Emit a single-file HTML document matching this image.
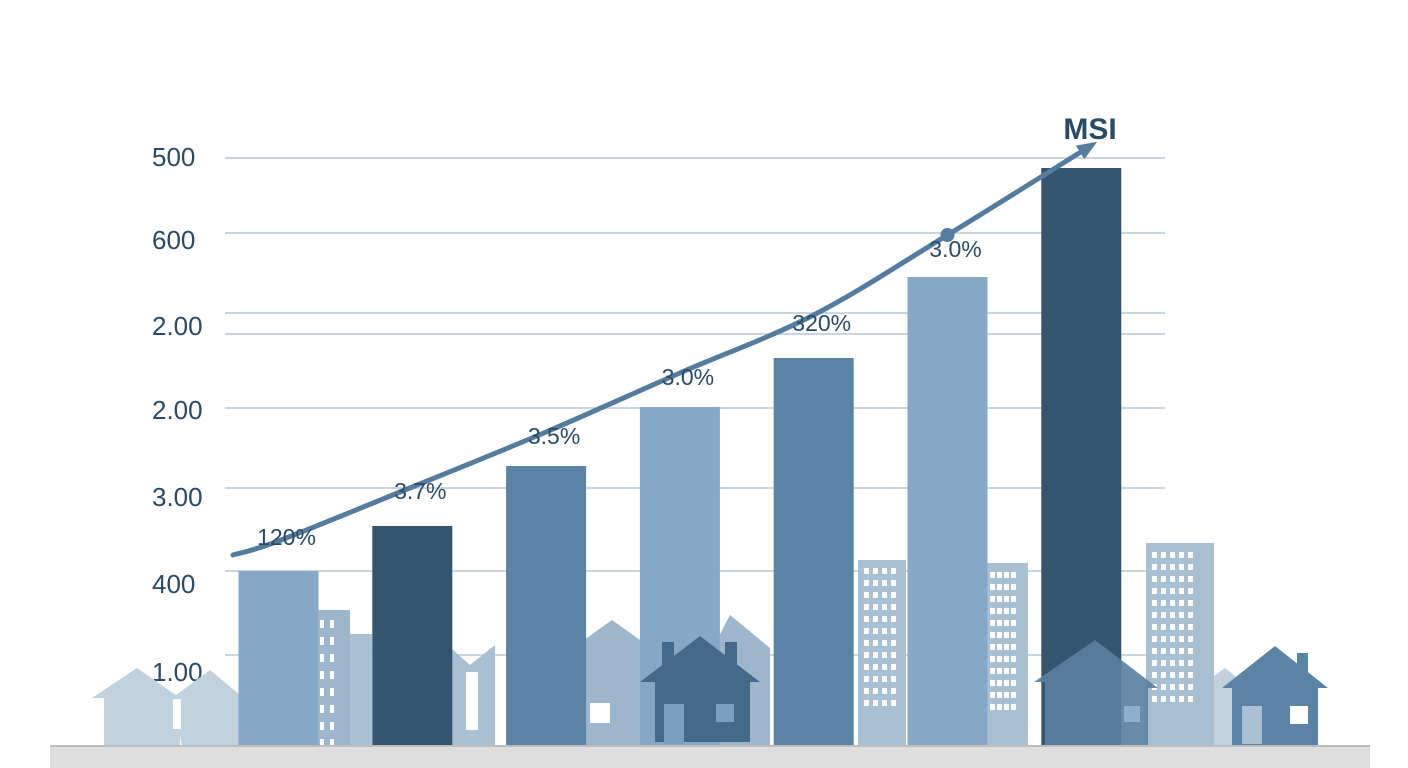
<!DOCTYPE html>
<html><head><meta charset="utf-8"><style>
html,body{margin:0;padding:0;background:#fff;width:1408px;height:768px;overflow:hidden}
svg{display:block;font-family:"Liberation Sans",sans-serif}
</style></head><body>
<svg id="c" width="1408" height="768" viewBox="0 0 1408 768">
<g id="grid"></g>
<g id="bg">
  <polygon points="92,698 137,668 180,698 180,746 104,746 104,698" fill="#c2d1de"/>
  <polygon points="172,698 210,670 240,695 240,746 182,746" fill="#c2d1de"/>
  <rect x="173" y="699" width="8" height="30" fill="#fff"/>
  <rect x="318" y="610" width="32" height="136" fill="#9db6cc"/>
  <rect x="350" y="634" width="22" height="112" fill="#a9bfd2"/>
  <polygon points="451,648 470,665 495,645 495,746 451,746" fill="#a9bfd2"/>
  <rect x="466" y="672" width="12" height="58" fill="#fff"/>
  <polygon points="584,640 612,620 640,640 640,746 584,746" fill="#9db6cc"/>
  <rect x="590" y="703" width="20" height="20" fill="#fff"/>
  <polygon points="717,640 730,615 770,648 770,746 717,746" fill="#9db6cc"/>
  <rect x="858" y="560" width="48" height="186" fill="#a9bfd2"/>
  <rect x="986" y="563" width="42" height="183" fill="#a9bfd2"/>
  <rect x="1146" y="543" width="68" height="203" fill="#a9bfd2"/>
  <polygon points="1214,676 1225,668 1240,680 1240,746 1214,746" fill="#c2d1de"/>
  <g id="win" fill="#fff"></g>
</g>
<g id="bars"></g>
<g id="fg">
  <polygon points="640,682 700,636 760,682 750,682 750,742 655,742 655,682" fill="#46698a"/>
  <rect x="662" y="642" width="12" height="25" fill="#46698a"/><rect x="725" y="642" width="12" height="25" fill="#46698a"/>
  <rect x="664" y="704" width="20" height="40" fill="#7aa0c0"/>
  <rect x="716" y="704" width="18" height="18" fill="#7aa0c0"/>
  <polygon points="1034,682 1095,640 1158,688 1148,688 1148,746 1045,746 1045,682" fill="#5a7fa0" opacity="0.9"/>
  <rect x="1124" y="706" width="16" height="16" fill="#8fb0cc"/>
  <polygon points="1222,688 1275,646 1328,688 1318,688 1318,745 1232,745 1232,688" fill="#5a83a6"/>
  <rect x="1297" y="653" width="11" height="22" fill="#5a83a6"/>
  <rect x="1242" y="706" width="20" height="38" fill="#aac0d4"/>
  <rect x="1290" y="706" width="18" height="18" fill="#fff"/>
</g>
<g id="line"></g>
<rect x="50" y="746" width="1320" height="22" fill="#dedede"/>
<rect x="50" y="745" width="1320" height="2" fill="#bdbdbd"/>
<g id="labels"></g>
</svg>
<script>
const categories = ["B1","B2","B3","B4","B5","B6","B7"];
const barValues = [174, 219, 279, 338, 387, 468, 577];
const barColors = ["#86a8c6","#34546f","#5a83a6","#86a8c6","#5a83a6","#86a8c6","#34546f"];
const barLabels = ["120%","3.7%","3.5%","3.0%","320%","3.0%"];
const labelValues = [208, 254, 309, 368, 422, 496];
const lineValues = [190, 204, 258, 313, 372, 430, 510, 600];
const lineIndex = [-0.34, 0, 1, 2, 3, 4, 5, 6.08];
const tickLabels = ["500","600","2.00","2.00","3.00","400","1.00"];
const tickValues = [588, 505, 419, 335, 248, 161, 73];
const gridValues = [587, 512, 432, 411, 337, 257, 174, 90];

const NS="http://www.w3.org/2000/svg";
const baseY=745, x0=278.5, step=133.8;
function y(v){return baseY - v;}
function xc(i){return x0 + i*step;}
function mk(t,a,p){const e=document.createElementNS(NS,t);for(const k in a)e.setAttribute(k,a[k]);p.appendChild(e);return e;}

const grid=document.getElementById('grid');
gridValues.forEach(v=>{
  const l=mk('line',{x1:225,x2:1165,y1:y(v),y2:y(v),stroke:'#c9d6e2','stroke-width':2},grid);
  
  
});
tickLabels.forEach((t,i)=>{
  const e=mk('text',{x:152,y:y(tickValues[i])+9,'font-size':26,fill:'#2b4a66'},grid);
  e.textContent=t;
  
  
});

const win=document.getElementById('win');
[[864,568,6,4,12],[990,572,4,4,12],[1152,552,6,5,13],[320,620,2,6,22]].forEach(([bx,by,c,cols,rows])=>{
  for(let r=0;r<rows;r++)for(let k=0;k<cols;k++){
    if(bx===320&&k>1)continue;
    mk('rect',{x:bx+k*(bx===320?10:c+3),y:by+r*(bx===320?17:12),width:bx===320?4:5,height:bx===320?8:6},win);
  }
});

const bars=document.getElementById('bars');
barValues.forEach((v,i)=>{
  const r=mk('rect',{x:xc(i)-40,y:y(v),width:80,height:v,fill:barColors[i]},bars);
  
  
});

const lg=document.getElementById('line');
const pts=lineValues.map((v,i)=>[xc(lineIndex[i]),y(v)]);
let d='M'+pts[0].join(',');
for(let i=0;i<pts.length-1;i++){
  const p0=pts[Math.max(0,i-1)],p1=pts[i],p2=pts[i+1],p3=pts[Math.min(pts.length-1,i+2)];
  const c1=[p1[0]+(p2[0]-p0[0])/6,p1[1]+(p2[1]-p0[1])/6];
  const c2=[p2[0]-(p3[0]-p1[0])/6,p2[1]-(p3[1]-p1[1])/6];
  d+=' C'+c1.join(',')+' '+c2.join(',')+' '+p2.join(',');
}
const p=mk('path',{d:d,fill:'none',stroke:'#557c9e','stroke-width':5,'stroke-linejoin':'round','stroke-linecap':'round'},lg);


const a=pts[pts.length-1],b=pts[pts.length-2];
const ang=Math.atan2(a[1]-b[1],a[0]-b[0]);
const ah=mk('polygon',{points:[[a[0]+6*Math.cos(ang),a[1]+6*Math.sin(ang)],[a[0]-14*Math.cos(ang)+8*Math.sin(ang),a[1]-14*Math.sin(ang)-8*Math.cos(ang)],[a[0]-14*Math.cos(ang)-8*Math.sin(ang),a[1]-14*Math.sin(ang)+8*Math.cos(ang)]].map(q=>q.join(',')).join(' '),fill:'#557c9e'},lg);


const dot=mk('circle',{cx:pts[6][0],cy:pts[6][1],r:7,fill:'#557c9e'},lg);



const lab=document.getElementById('labels');
barLabels.forEach((t,i)=>{
  const e=mk('text',{x:xc(i)+8,y:y(labelValues[i])+8,'font-size':23,fill:'#2b4a66','text-anchor':'middle'},lab);
  e.textContent=t;
  
  
});
const m=mk('text',{x:1090,y:139,'font-size':30,'font-weight':'bold',fill:'#2b4a66','text-anchor':'middle'},lab);
m.textContent='MSI';


</script>
</body></html>
